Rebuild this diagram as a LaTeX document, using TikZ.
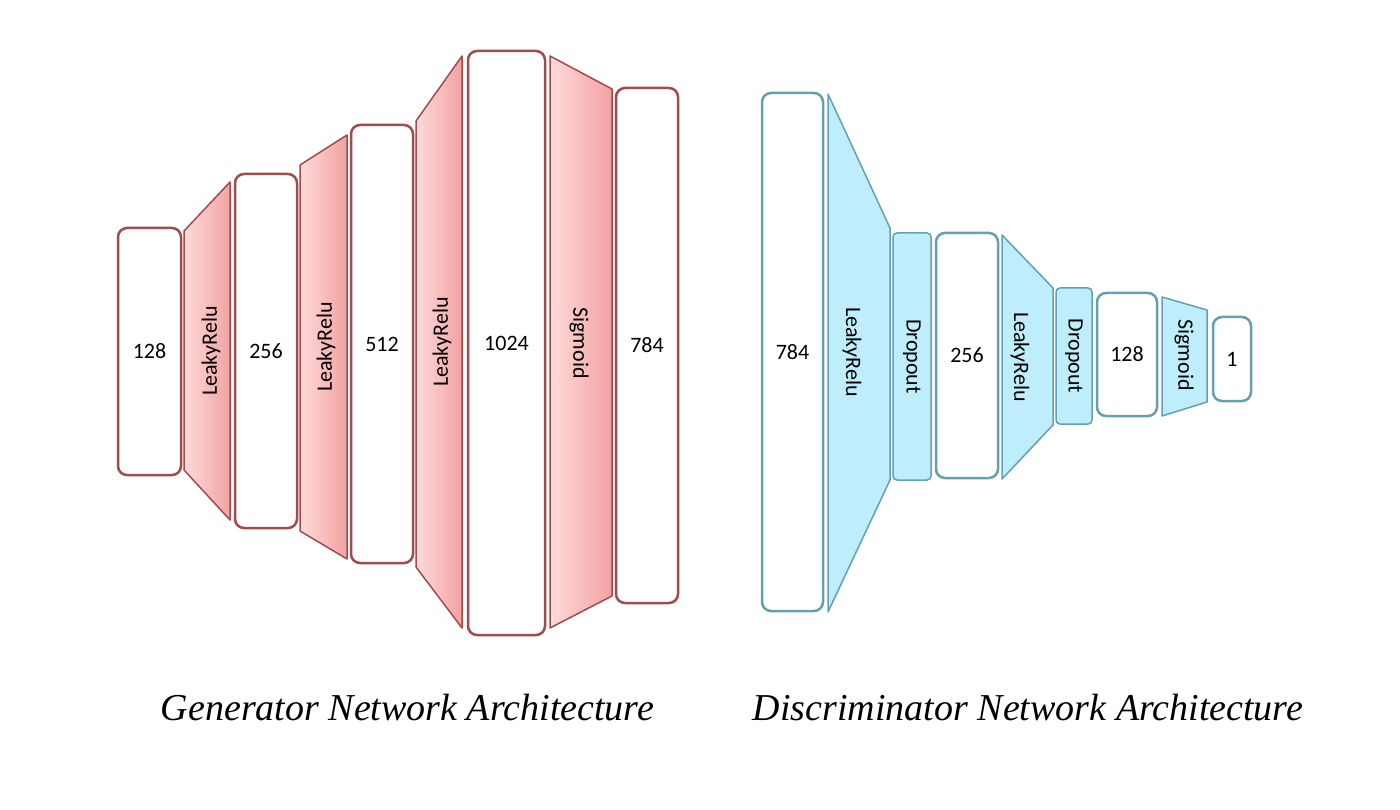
\documentclass[tikz,border=0pt]{standalone}
\usepackage{fontspec}
\setmainfont{Carlito}
\newfontfamily\captionfont{Liberation Serif}
\usepackage{tikz}
\usetikzlibrary{calc}
\definecolor{GenRed}{HTML}{A24A4C}
\definecolor{GenLight}{HTML}{FFDADA}
\definecolor{GenDark}{HTML}{F2A2A2}
\definecolor{DisBlue}{HTML}{62A0B2}
\definecolor{DisFill}{HTML}{BEEEFB}

\begin{document}
\begin{tikzpicture}[x=1pt,y=-1pt,
    genbox/.style={draw=GenRed,line width=2.5pt,rounded corners=9pt,fill=white,inner sep=0pt,font=\fontsize{22}{24}\selectfont},
    gentrap/.style={draw=GenRed,line width=1.5pt,left color=GenLight,right color=GenDark,line join=round},
    disbox/.style={draw=DisBlue,line width=2.5pt,rounded corners=9pt,fill=white,inner sep=0pt,font=\fontsize{22}{24}\selectfont},
    distrap/.style={draw=DisBlue,line width=1.5pt,fill=DisFill,line join=round},
    drop/.style={draw=DisBlue,line width=1.5pt,rounded corners=4pt,fill=DisFill,inner sep=0pt,font=\fontsize{22}{24}\selectfont},
    act/.style={font=\fontsize{22}{24}\selectfont,inner sep=0pt},
    archtitle/.style={font=\captionfont\itshape\fontsize{38}{42}\selectfont,inner sep=0pt}]
      \useasboundingbox (0,0) rectangle (1400,810);
      % generator
      \draw[gentrap] (184,231)--(230,182)--(230,520)--(184,470)--cycle;
      \draw[gentrap] (300,165)--(347,135)--(347,559)--(300,531)--cycle;
      \draw[gentrap] (416,121)--(462,56)--(462,628)--(416,567)--cycle;
      \draw[gentrap] (550,56)--(612,89)--(612,596)--(550,628)--cycle;
      \node[genbox,minimum width=63,minimum height=247] (g128) at (149.5,351.5) {128};
      \node[genbox,minimum width=62,minimum height=354] (g256) at (266,351) {256};
      \node[genbox,minimum width=62,minimum height=438] (g512) at (382,344) {512};
      \node[genbox,minimum width=77,minimum height=584] (g1024) at (506.5,343) {1024};
      \node[genbox,minimum width=62,minimum height=515] (g784) at (647,345.5) {784};
      \node[act,rotate=90] (gact1) at (211,351) {LeakyRelu};
      \node[act,rotate=90] (gact2) at (326,347) {LeakyRelu};
      \node[act,rotate=90] (gact3) at (442,342) {LeakyRelu};
      \node[act,rotate=-90] (gsig) at (579,343) {Sigmoid};
      % discriminator
      \draw[distrap] (828,94)--(890,228)--(890,480)--(828,612)--cycle;
      \draw[distrap] (1002,235)--(1053,288)--(1053,425)--(1002,479)--cycle;
      \draw[distrap] (1162,297)--(1207,310)--(1207,402)--(1162,416)--cycle;
      \node[disbox,minimum width=61,minimum height=518] (d784) at (792.5,352) {784};
      \node[drop,minimum width=247,minimum height=38,rotate=-90] (drop1) at (912,356.5) {Dropout};
      \node[disbox,minimum width=62,minimum height=245] (d256) at (967,355.5) {256};
      \node[drop,minimum width=136,minimum height=36,rotate=-90] (drop2) at (1074,356) {Dropout};
      \node[disbox,minimum width=60,minimum height=123] (d128) at (1127,354.5) {128};
      \node[disbox,minimum width=38,minimum height=84] (d1) at (1232,359) {1};
      \node[act,rotate=-90] (dact1) at (852,352) {LeakyRelu};
      \node[act,rotate=-90] (dact2) at (1020,357) {LeakyRelu};
      \node[act,rotate=-90] (dsig) at (1184,355) {Sigmoid};
      % captions
      \node[archtitle] (gentitle) at (407.5,708) {Generator Network Architecture};
      \node[archtitle] (distitle) at (1028,708) {Discriminator Network Architecture};
\end{tikzpicture}
\end{document}
